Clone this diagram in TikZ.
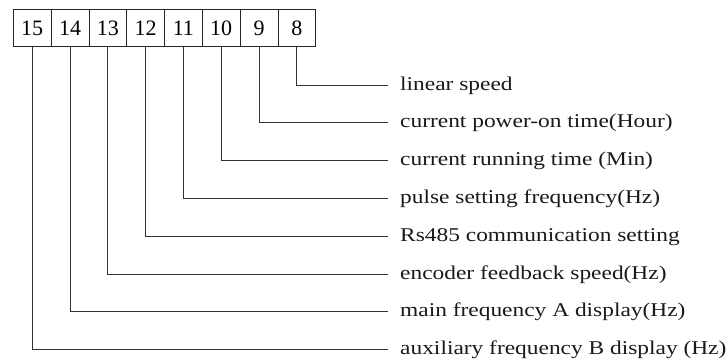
\documentclass[tikz,border=0pt]{standalone}
\usepackage{fontspec}
\setmainfont{Liberation Serif}
\newfontfamily\labfont[FakeStretch=1.2]{Liberation Serif}
\begin{document}
\begin{tikzpicture}[x=1pt,y=-1pt,
  cell/.style={draw=black!85,line width=0.8pt,minimum width=37.8pt,minimum height=37.7pt,inner sep=0pt,
    font=\fontsize{22}{26}\selectfont},
  lab/.style={anchor=base west,inner sep=0pt,text=black!90,font=\labfont\fontsize{19.5}{24}\selectfont},
  conn/.style={draw=black!80,line width=0.8pt}]
\useasboundingbox (0,0) rectangle (727,359);
\foreach \n [count=\i from 0] in {15,14,13,12,11,10,9,8}{
  \node[cell] (b\n) at ({32.2+37.8*\i},27.85) {\n};
}
\foreach \n/\y/\t in {8/85/linear speed,
  9/122.7/current power-on time(Hour),
  10/160.3/current running time (Min),
  11/198.3/pulse setting frequency(Hz),
  12/236/Rs485 communication setting,
  13/274/encoder feedback speed(Hz),
  14/311.7/main frequency A display(Hz),
  15/349.3/auxiliary frequency B display (Hz)}{
  \coordinate (e\n) at (388,\y);
  \node[lab] (l\n) at (400,\y+5) {\t};
  \draw[conn] (b\n.south) |- (e\n);
}
\end{tikzpicture}
\end{document}
